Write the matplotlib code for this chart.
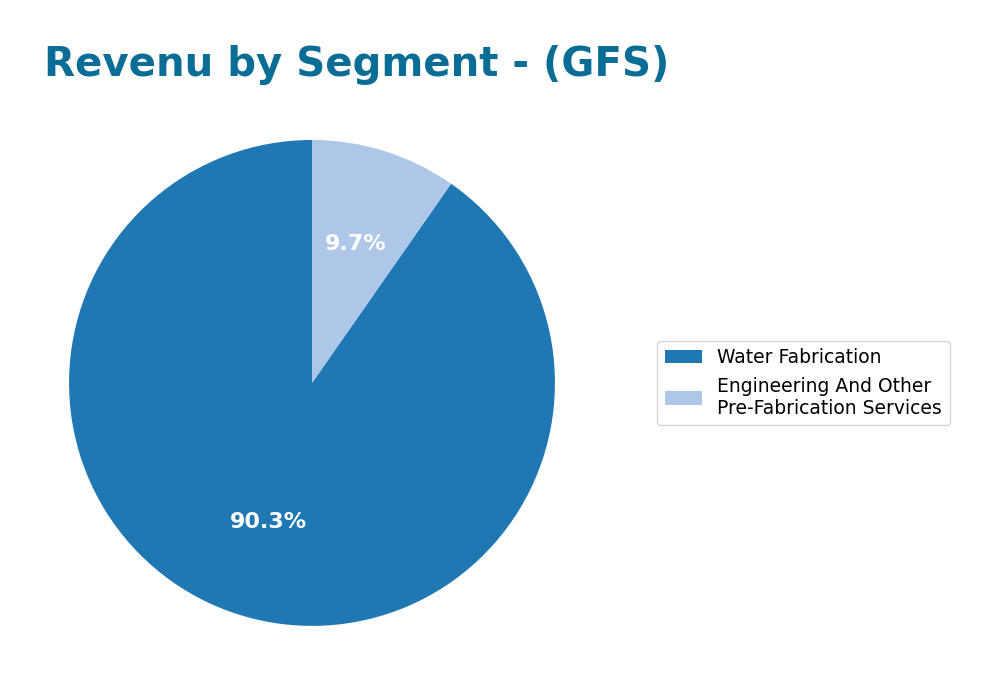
import matplotlib.pyplot as plt

segments = ["Water Fabrication", "Engineering And Other\nPre-Fabrication Services"]
shares = [90.3, 9.7]
colors = ["#1f77b4", "#aec7e8"]

fig = plt.figure(figsize=(10, 6.73), dpi=100)
ax = fig.add_axes([0.069, 0.07, 0.486, 0.722])
wedges, texts, autotexts = ax.pie(shares, colors=colors, startangle=90,
                                  autopct="%1.1f%%", pctdistance=0.6,
                                  textprops={"color": "white", "fontsize": 16,
                                             "fontweight": "bold"})
ax.set_xlim(-1, 1)
ax.set_ylim(-1, 1)
ax.set_aspect("equal")
fig.text(0.044, 0.903, "Revenu by Segment - (GFS)", fontsize=29,
         fontweight="bold", color="#0a6d96", va="center")
fig.legend(wedges, segments, loc="center left", bbox_to_anchor=(0.648, 0.431),
           fontsize=13.5)
fig.savefig("out.png")
